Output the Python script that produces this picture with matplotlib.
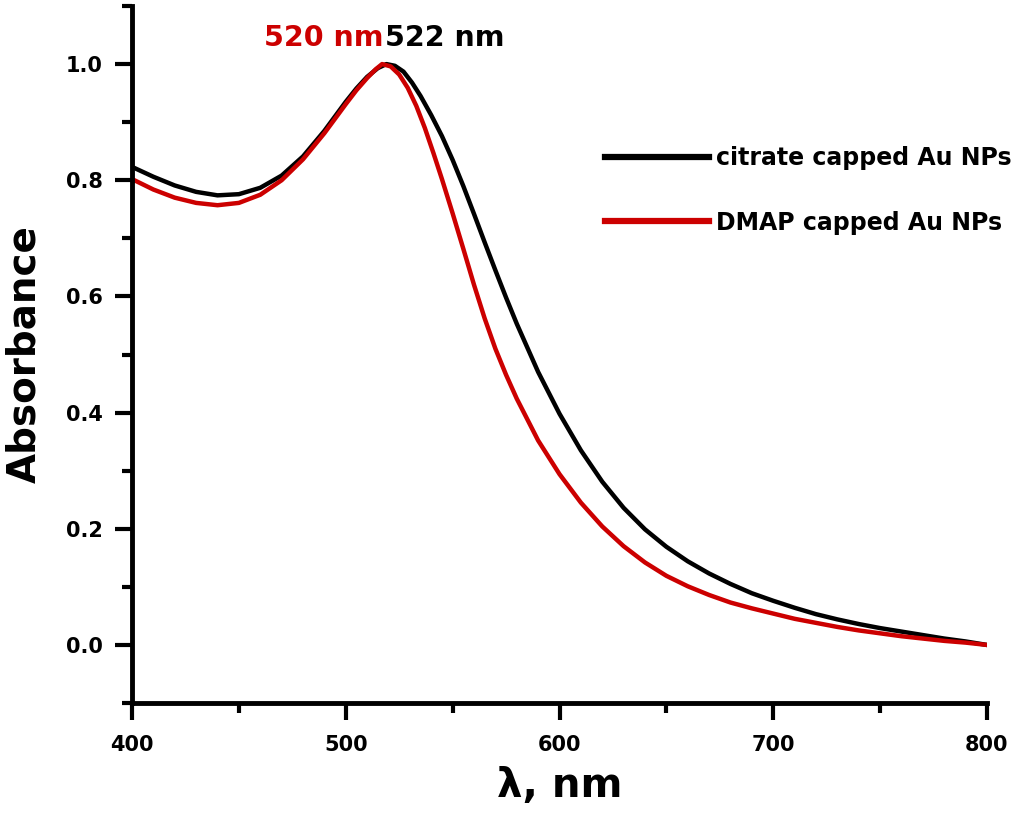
import matplotlib
matplotlib.use("Agg")
import matplotlib.pyplot as plt
from matplotlib.ticker import MultipleLocator

plt.rcParams['font.family'] = ['DejaVu Sans']
plt.rcParams['font.weight'] = 'bold'

# citrate capped Au NPs (black)
wl_citrate = [400, 410, 420, 430, 440, 450, 460, 470, 480, 490, 500, 505, 510, 515, 519,
              523, 527, 531, 535, 540, 545, 550, 555, 560, 565, 570, 575, 580, 590,
              600, 610, 620, 630, 640, 650, 660, 670, 680, 690, 700, 710, 720, 730,
              740, 750, 760, 770, 780, 790, 800]
abs_citrate = [0.823, 0.806, 0.791, 0.780, 0.774, 0.776, 0.787, 0.808, 0.841, 0.885,
               0.935, 0.958, 0.978, 0.993, 1.000, 0.997, 0.987, 0.968, 0.945, 0.912,
               0.876, 0.835, 0.790, 0.742, 0.693, 0.645, 0.598, 0.553, 0.470, 0.398,
               0.335, 0.281, 0.236, 0.199, 0.169, 0.144, 0.123, 0.105, 0.089, 0.076,
               0.064, 0.053, 0.044, 0.036, 0.029, 0.023, 0.017, 0.011, 0.006, 0.000]

# DMAP capped Au NPs (red)
wl_dmap = [400, 410, 420, 430, 440, 450, 460, 470, 480, 490, 500, 505, 510, 514, 517,
           521, 525, 529, 533, 537, 541, 545, 550, 555, 560, 565, 570, 575, 580, 590,
           600, 610, 620, 630, 640, 650, 660, 670, 680, 690, 700, 710, 720, 730, 740,
           750, 760, 770, 780, 790, 800]
abs_dmap = [0.802, 0.784, 0.770, 0.761, 0.757, 0.761, 0.775, 0.800, 0.836, 0.881,
            0.931, 0.955, 0.976, 0.991, 1.000, 0.996, 0.982, 0.959, 0.928, 0.890,
            0.847, 0.802, 0.743, 0.682, 0.620, 0.562, 0.510, 0.465, 0.424, 0.352,
            0.294, 0.245, 0.204, 0.170, 0.142, 0.119, 0.101, 0.086, 0.073, 0.063,
            0.054, 0.045, 0.038, 0.031, 0.025, 0.020, 0.015, 0.011, 0.007, 0.004,
            0.000]

red = '#cc0000'

fig = plt.figure(figsize=(10.17, 8.19), dpi=100)
ax = fig.add_axes([0.1298, 0.1416, 0.8407, 0.8511])

ax.plot(wl_citrate, abs_citrate, color='black', lw=3.2, label='citrate capped Au NPs')
ax.plot(wl_dmap, abs_dmap, color=red, lw=3.2, label='DMAP capped Au NPs')

ax.set_xlim(400, 800)
ax.set_ylim(-0.1, 1.1)
ax.xaxis.set_major_locator(MultipleLocator(100))
ax.xaxis.set_minor_locator(MultipleLocator(50))
ax.yaxis.set_major_locator(MultipleLocator(0.2))
ax.yaxis.set_minor_locator(MultipleLocator(0.1))
ax.yaxis.set_major_formatter(plt.FuncFormatter(lambda v, p: f'{v:.1f}'))

for side in ['top', 'right']:
    ax.spines[side].set_visible(False)
for side in ['left', 'bottom']:
    ax.spines[side].set_linewidth(3.5)

ax.tick_params(which='major', length=12, width=3, labelsize=15, pad=9)
ax.tick_params(axis='x', which='major', pad=11)
ax.tick_params(which='minor', length=7, width=3)

ax.set_xlabel('λ, nm', fontsize=29, fontweight='bold', labelpad=8)
ax.set_ylabel('Absorbance', fontsize=28, fontweight='bold', labelpad=16)

ax.text(517.5, 1.045, '520 nm', color=red, fontsize=20.5, fontweight='bold',
        ha='right', va='center')
ax.text(518.5, 1.045, '522 nm', color='black', fontsize=20.5, fontweight='bold',
        ha='left', va='center')

leg = ax.legend(loc='upper left', bbox_to_anchor=(605 / 1017, 1 - 146 / 819),
                bbox_transform=fig.transFigure, frameon=False,
                handlelength=4.4, handletextpad=0.3, labelspacing=1.72,
                borderpad=0, borderaxespad=0, prop={'weight': 'bold', 'size': 17})
for line in leg.get_lines():
    line.set_linewidth(4.5)

fig.savefig('out.png', dpi=100)
